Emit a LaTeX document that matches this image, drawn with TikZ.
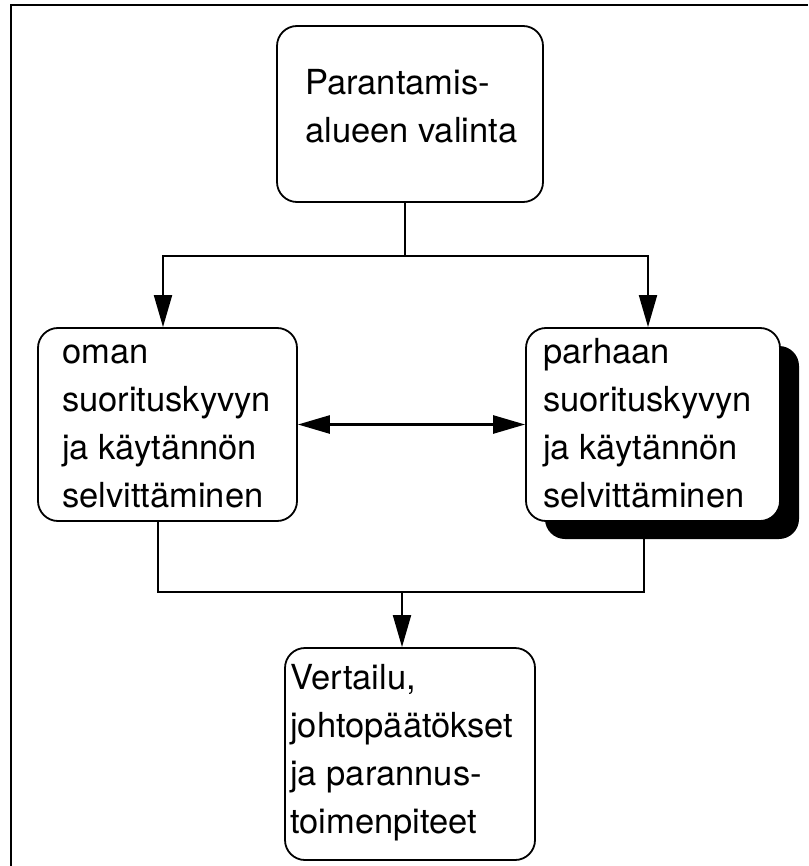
\documentclass[tikz,border=0pt]{standalone}
\usepackage{fontspec}
\setmainfont{TeX Gyre Heros}
\usetikzlibrary{arrows.meta,shadows}
\begin{document}
\begin{tikzpicture}[x=1pt,y=-1pt,
  box/.style={draw, line width=1.8pt, rounded corners=20pt, fill=white, inner sep=0pt},
  shadowbox/.style={box, drop shadow={shadow xshift=19pt, shadow yshift=-18pt, fill=black, opacity=1}},
  txt/.style={anchor=base west, inner sep=0pt, font=\fontsize{34.5}{48}\selectfont},
  link/.style={line width=2pt},
  tip/.tip={Triangle[length=32pt,width=18pt]},
  arr/.style={link, -tip},
  biarr/.style={link, line width=2.6pt, tip-tip}]
\useasboundingbox (0,0) rectangle (808,866);

% frame lines along the top and left edge
\draw[line width=2pt] (11,866) -- (11,5) -- (808,5);

% boxes
\node[box, minimum width=266pt, minimum height=176pt] (top) at (410,114) {};
\node[box, minimum width=259pt, minimum height=193pt] (left) at (167.5,424.5) {};
\node[shadowbox, minimum width=254pt, minimum height=193pt] (right) at (653,424.5) {};
\node[box, minimum width=250pt, minimum height=212pt] (bottom) at (410,754) {};

% box texts, one node per line
\foreach \t [count=\i] in {Parantamis-, alueen valinta}
  \node[txt] (topline\i) at (305,{95+48*(\i-1)}) {\t};
\foreach \t [count=\i] in {oman, suorituskyvyn, ja käytännön, selvittäminen}
  \node[txt] (leftline\i) at (62,{363+48*(\i-1)}) {\t};
\foreach \t [count=\i] in {parhaan, suorituskyvyn, ja käytännön, selvittäminen}
  \node[txt] (rightline\i) at (543,{363+48*(\i-1)}) {\t};
\foreach \t [count=\i] in {{Vertailu,}, johtopäätökset, ja parannus-, toimenpiteet}
  \node[txt] (bottomline\i) at (290,{689+48*(\i-1)}) {\t};

% connectors
\coordinate (split) at (405,256);
\coordinate (merge) at (402,592);
\draw[link] (top.south -| split) -- (split);
\draw[arr] (split) -| ([xshift=-4.5pt]left.north);
\draw[arr] (split) -| ([xshift=-5pt]right.north);
\draw[biarr] (left.east) -- (right.west);
\draw[link] ([xshift=-9.5pt]left.south) |- (merge) -| ([xshift=-9pt]right.south);
\draw[arr] (merge) -- (bottom.north -| merge);
\end{tikzpicture}
\end{document}
